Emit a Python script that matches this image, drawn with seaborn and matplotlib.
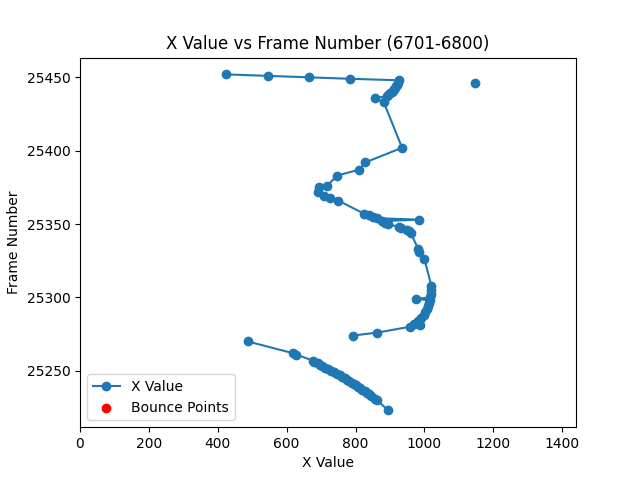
import numpy as np
import pandas as pd
import matplotlib
matplotlib.use("Agg")
import matplotlib.pyplot as plt
import seaborn as sns

# frame numbers and detected x positions (NaN = ball not found, breaks the line)
frames = [
    25223, 25230, 25231, 25233, 25234, 25235, 25236, 25237, 25238, 25239,
    25240, 25241, 25242, 25243, 25244, 25245, 25246, 25247, 25248, 25249,
    25250, 25251, 25252, 25253, 25254, 25255, 25256, 25257, 25261, 25262,
    25270, 25272,
    25274, 25276, 25280, 25281, 25282, 25284, 25286, 25288, 25290, 25292,
    25294, 25296, 25298, 25299, 25300, 25302, 25305, 25308, 25326, 25331,
    25333, 25344, 25345, 25346, 25347, 25348, 25350, 25351, 25352, 25353,
    25354, 25355, 25356, 25357, 25366, 25368, 25369, 25372, 25375, 25376,
    25383, 25387, 25392, 25402, 25433, 25436, 25437, 25438, 25439, 25440,
    25441, 25442, 25443, 25444, 25445, 25446, 25448, 25449, 25450, 25451,
    25452, 25453,
    25446,
]
x_values = [
    895, 862, 856, 845, 838, 832, 826, 820, 814, 808,
    802, 796, 789, 782, 775, 768, 761, 754, 746, 738,
    730, 721, 712, 703, 697, 690, 680, 676, 628, 618,
    487, np.nan,
    792, 862, 958, 988, 970, 980, 990, 998, 1003, 1007,
    1010, 1013, 1015, 975, 1017, 1018, 1018, 1020, 1000, 985,
    982, 960, 955, 948, 932, 925, 895, 885, 877, 983,
    862, 850, 840, 825, 750, 725, 708, 690, 695, 718,
    745, 810, 828, 935, 882, 855, 890, 895, 900, 905,
    908, 912, 915, 918, 920, 922, 925, 785, 665, 545,
    425, np.nan,
    1148,
]
bounce_x = []
bounce_frames = []

df = pd.DataFrame({"frame": frames, "x": x_values})
df["segment"] = df["x"].isna().cumsum()
df = df.dropna()

fig, ax = plt.subplots(figsize=(6.4, 4.8), dpi=100)

first = True
for _, seg in df.groupby("segment"):
    sns.lineplot(data=seg, x="x", y="frame", sort=False, estimator=None,
                 marker="o", markersize=6, color="#1f77b4",
                 markeredgecolor="#1f77b4", markeredgewidth=1,
                 label="X Value" if first else None, legend=False, ax=ax)
    first = False

ax.scatter(bounce_x, bounce_frames, color="red", label="Bounce Points")

ax.set_xlim(0, 1440)
ax.set_title("X Value vs Frame Number (6701-6800)")
ax.set_xlabel("X Value")
ax.set_ylabel("Frame Number")
ax.legend(loc="lower left")

fig.savefig("out.png", dpi=100)
